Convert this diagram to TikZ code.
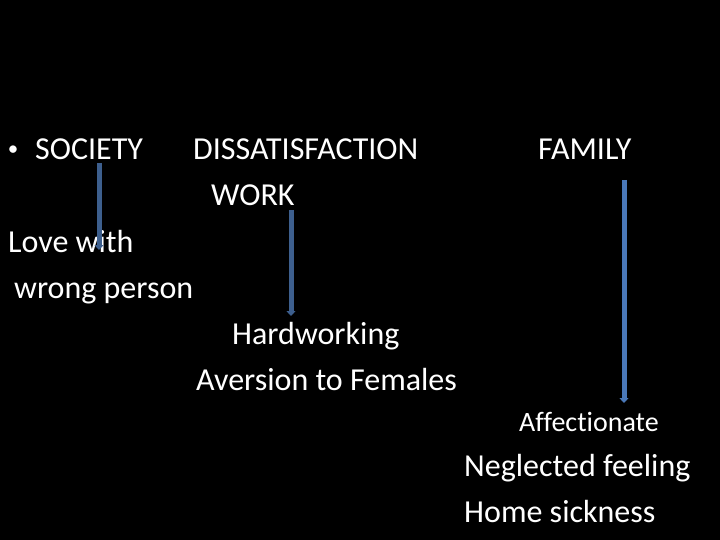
\documentclass[tikz,border=0pt]{standalone}
\usepackage{fontspec}
\setmainfont{Carlito}[Ligatures=CommonOff]
\usetikzlibrary{arrows.meta}
\definecolor{arrA}{HTML}{3D5F8E}
\definecolor{arrB}{HTML}{4A78B8}
\tikzset{
  txt/.style={anchor=base west, inner sep=0pt, text=white, font=\fontsize{32}{38}\selectfont},
  small/.style={txt, font=\fontsize{28}{33}\selectfont},
  bul/.style={anchor=center, inner sep=0pt, text=white, font=\fontsize{21}{25}\selectfont},
  arr/.style={line width=5pt, -{Triangle[width=9pt,length=5pt]}},
}
\begin{document}
\begin{tikzpicture}[x=1pt,y=-1pt]
\fill[black] (0,0) rectangle (720,540);
\useasboundingbox (0,0) rectangle (720,540);
\node[bul] (bul) at (13,151) {\textbullet};
\node[txt] (soc) at (35,160) {SOCIETY};
\node[txt] (dis) at (193,160) {DISSATISFACTION};
\node[txt] (fam) at (538,160) {FAMILY};
\node[txt] (work) at (211,206) {WORK};
\node[txt] (love) at (8,252) {Love with};
\node[txt] (wrong) at (14,298) {wrong person};
\node[txt] (hard) at (232,344) {Hardworking};
\node[txt] (aver) at (196,390) {Aversion to Females};
\node[small] (aff) at (519,431) {Affectionate};
\node[txt] (negl) at (464,476) {Neglected feeling};
\node[txt] (home) at (464,522) {Home sickness};
\coordinate (a1s) at (99,163);
\coordinate (a1e) at (99,250);
\coordinate (a2s) at (291,210);
\coordinate (a2e) at (291,316);
\coordinate (a3s) at (624,180);
\coordinate (a3e) at (624,403);
\draw[arr, arrA] (a1s) -- (a1e);
\draw[arr, arrA] (a2s) -- (a2e);
\draw[arr, arrB] (a3s) -- (a3e);
\end{tikzpicture}
\end{document}
